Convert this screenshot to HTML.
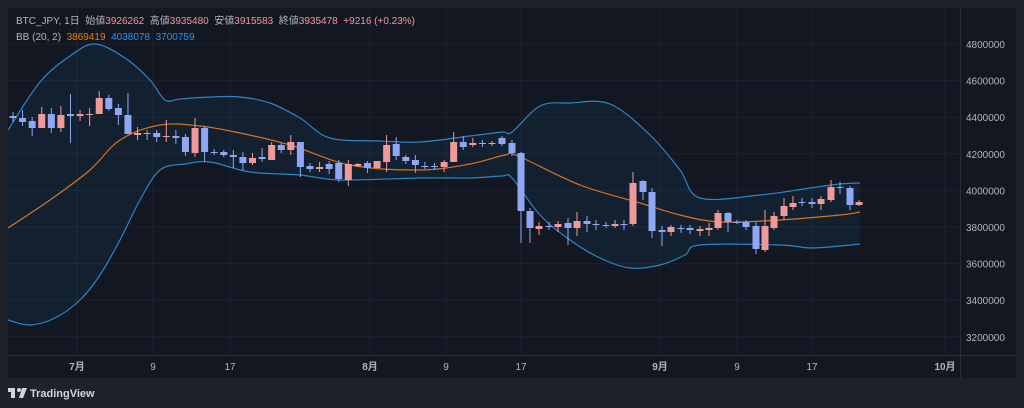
<!DOCTYPE html>
<html><head><meta charset="utf-8"><style>
html,body{margin:0;padding:0;background:#1e222d;}
svg{display:block}
text{font-family:"Liberation Sans","Noto Sans CJK JP",sans-serif;}
</style></head><body>
<svg id="s" width="1024" height="408" xmlns="http://www.w3.org/2000/svg">
<rect x="0" y="0" width="1024" height="408" fill="#1e222d"/>
<rect x="8" y="8" width="1008" height="370" fill="#131722"/>
<g id="grid" stroke="#1e2230" stroke-width="1"></g>
<path id="fill" fill="rgba(33,150,243,0.07)"/>
<path id="up" fill="none" stroke="#2a86c9" stroke-width="1.2"/>
<path id="lo" fill="none" stroke="#2a86c9" stroke-width="1.2"/>
<path id="mid" fill="none" stroke="#d9731f" stroke-width="1.2"/>
<g id="c"></g>
<line x1="960.5" y1="8" x2="960.5" y2="378" stroke="#2a2e39"/>
<line x1="8" y1="355.5" x2="1016" y2="355.5" stroke="#2a2e39"/>
<g id="ax" fill="#b2b5be" font-size="10"></g>
<text x="16" y="24" font-size="10" fill="#b2b5be">BTC_JPY, 1日 &#160;始値<tspan fill="#ef9a9a">3926262</tspan> &#160;高値<tspan fill="#ef9a9a">3935480</tspan> &#160;安値<tspan fill="#ef9a9a">3915583</tspan> &#160;終値<tspan fill="#ef9a9a">3935478</tspan> &#160;<tspan fill="#ef9a9a">+9216 (+0.23%)</tspan></text>
<text x="16" y="40" font-size="10" fill="#b2b5be">BB (20, 2) &#160;<tspan fill="#f57c00">3869419</tspan> &#160;<tspan fill="#2196f3">4038078</tspan> &#160;<tspan fill="#2196f3">3700759</tspan></text>
<g transform="translate(8,388)"><rect x="0" y="0" width="7" height="4" fill="#d1d4dc"/><rect x="3" y="0" width="4" height="10" fill="#d1d4dc"/><circle cx="11" cy="2" r="2" fill="#d1d4dc"/><path d="M14 0 L19 0 L15 10 L11 10 Z" fill="#d1d4dc"/></g>
<text x="30" y="397" font-size="11" font-weight="bold" fill="#d1d4dc">TradingView</text>
</svg>
<script>
var ns="http://www.w3.org/2000/svg",s=document.getElementById('s');
function el(p,t,a){var e=document.createElementNS(ns,t);for(var k in a)e.setAttribute(k,a[k]);p.appendChild(e);return e;}
var g=document.getElementById('grid'),ax=document.getElementById('ax');
for(var p=3200000;p<=4800000;p+=200000){var y=44+(4800000-p)/200000*36.6;
el(g,'line',{x1:8,x2:960,y1:y,y2:y});var t=el(ax,'text',{x:966,y:y+4});t.textContent=p;}
var xs=[[77,'7月',1],[153,'9'],[230,'17'],[370,'8月',1],[446,'9'],[521,'17'],[660,'9月',1],[737,'9'],[812,'17'],[945,'10月',1]];
xs.forEach(function(d){el(g,'line',{x1:d[0],x2:d[0],y1:8,y2:355});var t=el(ax,'text',{x:d[0],y:370,'text-anchor':'middle','font-weight':d[2]?'bold':'normal'});t.textContent=d[1];});
function segs(P){var d='';for(var i=0;i<P.length-1;i++){var p0=P[i-1]||P[i],p1=P[i],p2=P[i+1],p3=P[i+2]||P[i+1];
var c1=[p1[0]+(p2[0]-p0[0])/6,p1[1]+(p2[1]-p0[1])/6],c2=[p2[0]-(p3[0]-p1[0])/6,p2[1]-(p3[1]-p1[1])/6];
d+=' C'+c1[0]+' '+c1[1]+' '+c2[0]+' '+c2[1]+' '+p2[0]+' '+p2[1];}return d;}
function sm(P){return 'M'+P[0][0]+' '+P[0][1]+segs(P);}
var U=[[8,130],[40,82],[70,56],[95,44],[125,58],[150,80],[165,100],[180,99],[210,97],[240,97],[270,103],[300,118],[330,138],[380,141],[420,142],[470,136],[502,132],[512,132],[540,106],[570,103],[610,104],[650,135],[680,170],[700,198],[760,195],[810,188],[840,184],[860,183]];
var L=[[8,320],[30,325],[55,318],[80,300],[100,275],[120,240],[140,200],[160,170],[185,164],[210,162],[250,172],[300,175],[340,180],[420,178],[470,178],[502,176],[512,178],[540,215],[570,240],[600,258],[630,268],[660,265],[685,255],[700,245],[780,245],[810,248],[840,246],[860,244]];
var M=[[8,228],[50,200],[90,170],[120,140],[160,125],[200,126],[240,133],[290,145],[350,165],[420,170],[470,164],[505,155],[518,156],[580,185],[640,203],[680,215],[720,222],[780,220],[840,215],[860,212]];
document.getElementById('up').setAttribute('d',sm(U));
document.getElementById('lo').setAttribute('d',sm(L));
document.getElementById('mid').setAttribute('d',sm(M));
var lr=L.slice().reverse();
document.getElementById('fill').setAttribute('d',sm(U)+' L'+lr[0][0]+' '+lr[0][1]+segs(lr)+' Z');
var A=[[116,118,112,122,'b'],[118,122,110,126,'b'],[121,128,117,136,'b'],[114,128,107,128,'r'],[114,128,108,133,'b'],[115,128,106,132,'r'],[114,116,94,143,'b'],[114,116,110,121,'r'],[114,115,108,126,'r'],[98,114,91,114,'r'],[98,109,95,111,'b'],[108,115,104,125,'b'],[115,134,93,134,'b'],[133,135,127,140,'r'],[133,134,130,140,'b'],[133,137,130,142,'b'],[136,137,120,142,'r'],[136,138,130,144,'b'],[137,152,134,156,'b'],[128,153,118,157,'r'],[128,152,126,162,'b'],[152,153,149,155,'b'],[152,155,150,157,'b'],[155,157,150,168,'b'],[157,163,152,170,'b'],[158,163,153,165,'r'],[157,159,148,162,'b'],[145,160,142,160,'r'],[145,150,143,153,'b'],[142,150,135,155,'r'],[142,167,142,177,'b'],[166,169,163,172,'b'],[167,169,162,172,'r'],[164,169,161,174,'b'],[163,179,160,182,'b'],[164,180,160,186,'r'],[164,166,163,167,'r'],[163,168,161,173,'b'],[161,168,161,168,'r'],[145,162,135,172,'r'],[144,156,137,160,'b'],[157,161,155,164,'b'],[160,165,155,173,'b'],[166,166,162,169,'b'],[166,167,163,170,'b'],[162,167,160,172,'r'],[142,162,132,162,'r'],[142,147,136,150,'b'],[143,145,138,147,'r'],[143,144,140,147,'b'],[143,144,141,146,'r']];
var B=[[502,138,144,136,146,'b'],[512,143,153,140,156,'b'],[521,153,211,152,243,'b'],[530,211,228,208,243,'b'],[539,226,229,222,235,'r'],[549,226,227,222,230,'b'],[558,224,227,221,232,'r'],[568,223,228,218,245,'b'],[577,221,228,212,236,'r'],[587,221,224,216,232,'b'],[596,224,225,220,230,'b'],[606,225,226,222,228,'b'],[615,224,226,220,228,'r'],[624,224,225,220,230,'b'],[633,183,224,172,226,'r'],[643,181,192,180,200,'b'],[652,192,231,188,238,'b'],[662,230,232,226,246,'b'],[671,227,232,225,236,'r'],[681,228,229,225,233,'b'],[690,228,230,225,234,'b'],[700,229,231,226,236,'r'],[709,228,230,223,236,'r'],[718,213,228,210,230,'r'],[728,213,222,212,232,'b'],[737,222,223,220,224,'b'],[746,222,227,220,230,'b'],[756,226,249,222,254,'b'],[765,226,250,210,252,'r'],[774,216,228,212,230,'r'],[784,206,216,198,220,'r'],[793,203,207,196,210,'r'],[802,202,203,198,206,'b'],[812,202,204,198,208,'b'],[821,199,204,196,210,'r'],[831,187,200,180,202,'r'],[840,187,188,182,194,'b'],[850,188,205,186,210,'b'],[859,202,205,200,206,'r']];
var cg=document.getElementById('c');
function cd(x,t,b,wt,wb,c){var col=c=='r'?'#ef9a9a':'#90a8f4';
el(cg,'line',{x1:x,x2:x,y1:wt,y2:wb,stroke:col,'stroke-width':1});
el(cg,'rect',{x:x-3.5,y:t,width:7,height:Math.max(1,b-t),fill:col});}
A.forEach(function(a,i){cd(13+9.58*i,a[0],a[1],a[2],a[3],a[4]);});
B.forEach(function(a){cd(a[0],a[1],a[2],a[3],a[4],a[5]);});
</script>
</body></html>
